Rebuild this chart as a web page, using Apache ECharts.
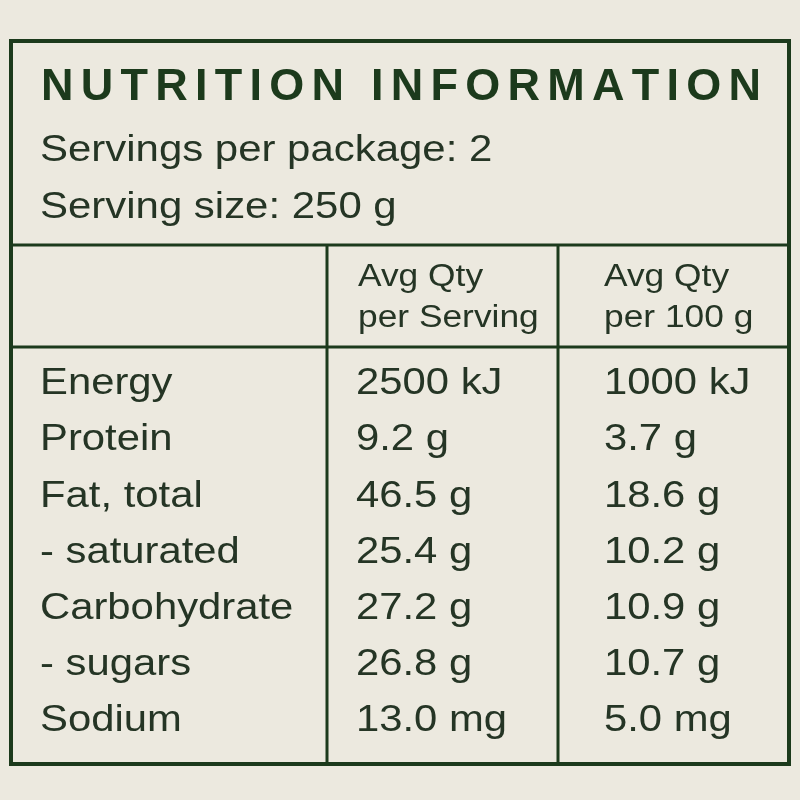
<!DOCTYPE html>
<html><head><meta charset="utf-8">
<script src="https://cdn.jsdelivr.net/npm/echarts@6/dist/echarts.min.js"></script>
<style>html,body{margin:0;padding:0;background:#ECE9DF}#c{width:800px;height:800px}</style>
</head><body><div id="c"></div>
<script>
const title = "NUTRITION INFORMATION";
const subLines = ["Servings per package: 2", "Serving size: 250 g"];
const headers = [["Avg Qty", "per Serving"], ["Avg Qty", "per 100 g"]];
const nutrients = ["Energy", "Protein", "Fat, total", "- saturated", "Carbohydrate", "- sugars", "Sodium"];
const perServing = ["2500 kJ", "9.2 g", "46.5 g", "25.4 g", "27.2 g", "26.8 g", "13.0 mg"];
const per100g = ["1000 kJ", "3.7 g", "18.6 g", "10.2 g", "10.9 g", "10.7 g", "5.0 mg"];

const green = "#1C3A1C", txt = "#253525";
const F = "Liberation Sans, Arial, sans-serif";
const els = [];
els.push({type:'rect', shape:{x:11,y:41,width:778,height:723}, style:{fill:'none', stroke:green, lineWidth:4}});
[[11,245,789,245],[11,347,789,347],[327,245,327,764],[558,245,558,764]].forEach(l=>
  els.push({type:'line', shape:{x1:l[0],y1:l[1],x2:l[2],y2:l[3]}, style:{stroke:green, lineWidth:3}}));
const ctx = document.createElement('canvas').getContext('2d');
ctx.font = "bold 45px " + F;
const chars = title.split('');
const natural = chars.reduce((s,c)=>s+ctx.measureText(c).width,0);
const sp = (720 - natural)/(chars.length-1);
let x = 41;
chars.forEach(c=>{ els.push({type:'text', x:x, y:88, style:{text:c, font:"bold 45px "+F, fill:green, verticalAlign:'middle'}}); x += ctx.measureText(c).width + sp; });
function t(xx, y, s, size, sx){ els.push({type:'text', x:xx, y:y, scaleX:sx, style:{text:s, font:size+"px "+F, fill:txt, verticalAlign:'middle'}}); }
subLines.forEach((s,i)=>t(40, 151+i*57, s, 36, 1.165));
headers.forEach((h,j)=>h.forEach((s,i)=>t([358,604][j], 277+i*41, s, 31, 1.14)));
nutrients.forEach((n,i)=>{
  const y = 384 + i*56.2;
  t(40, y, n, 37, 1.13); t(356, y, perServing[i], 37, 1.13); t(604, y, per100g[i], 37, 1.13);
});
const chart = echarts.init(document.getElementById('c'));
chart.setOption({backgroundColor:'#ECE9DF', graphic:{elements:els}});
</script></body></html>
